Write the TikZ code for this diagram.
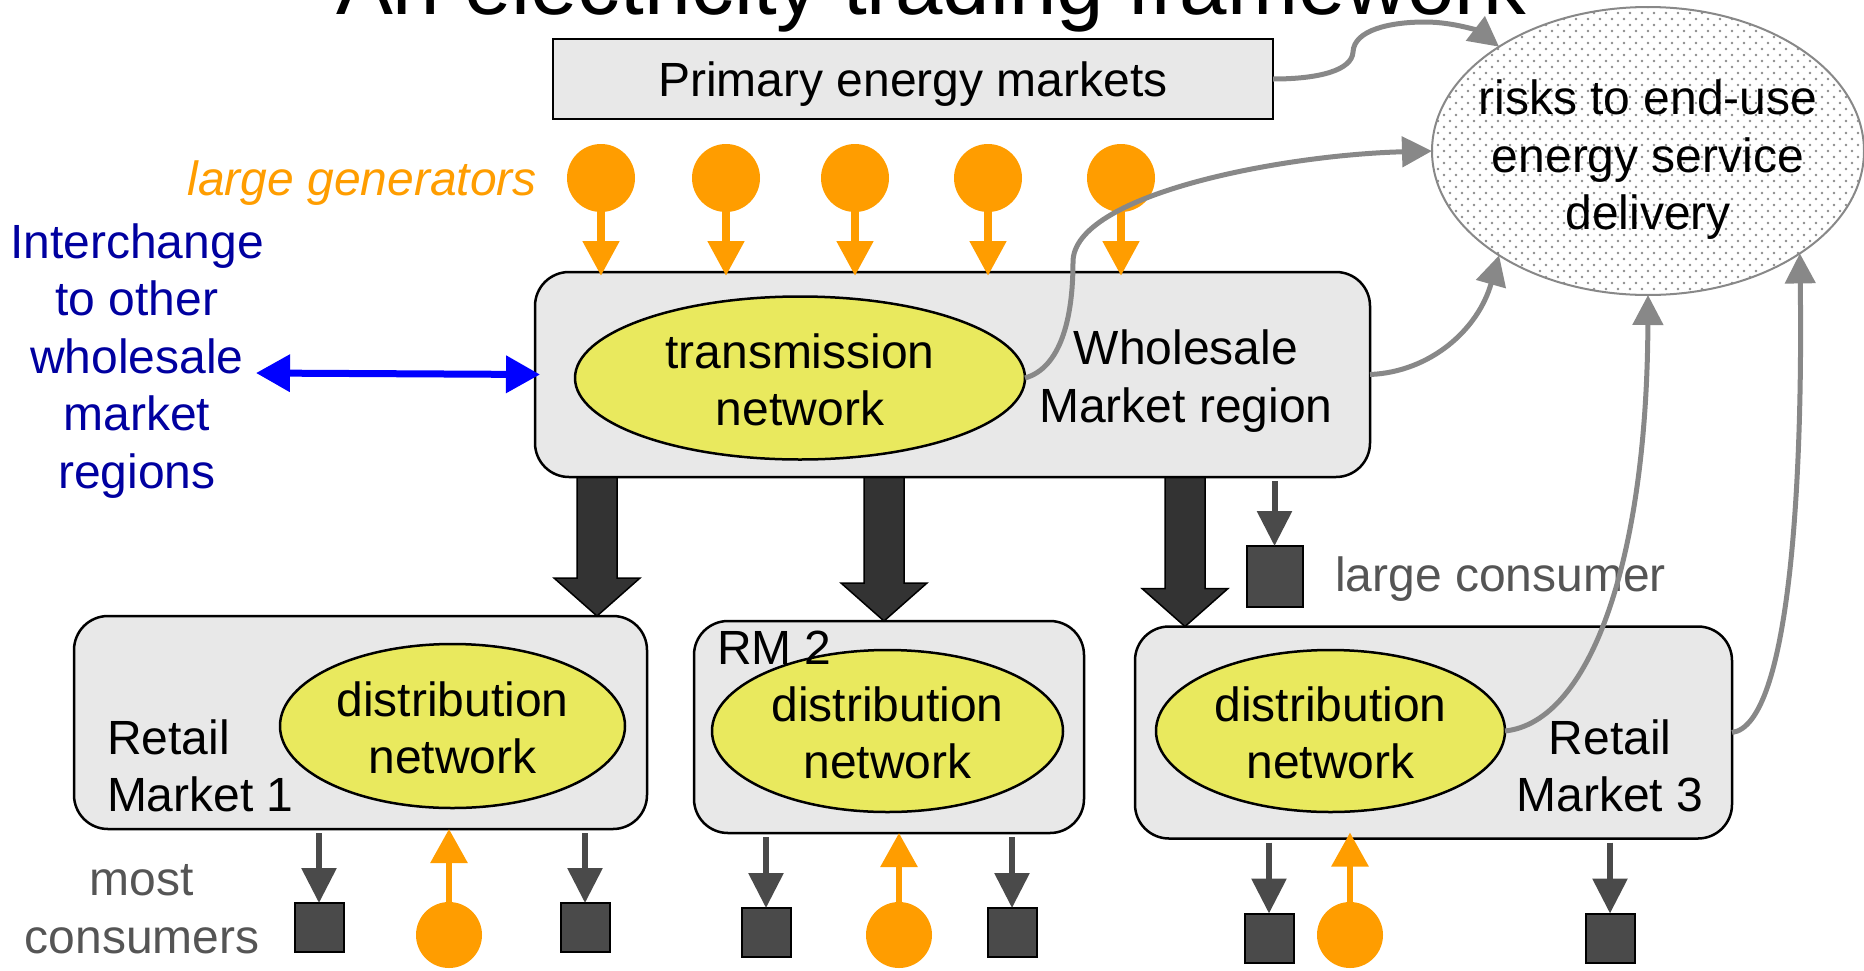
\documentclass[tikz,border=0pt]{standalone}
\usepackage{fontspec}
\setmainfont{Liberation Sans}
\usetikzlibrary{shapes.geometric,arrows.meta}

\definecolor{boxgray}{RGB}{232,232,232}
\definecolor{netyellow}{RGB}{233,233,94}
\definecolor{genorange}{RGB}{255,157,0}
\definecolor{linkgray}{RGB}{136,136,136}
\definecolor{dotgray}{RGB}{140,140,140}
\definecolor{loadgray}{RGB}{74,74,74}
\definecolor{labelgray}{RGB}{85,85,85}
\definecolor{navytext}{RGB}{0,0,160}
\definecolor{heavy}{RGB}{51,51,51}
\definecolor{tieblue}{RGB}{0,0,255}

\begin{document}
\begin{tikzpicture}[x=1pt,y=-1pt,
  fnt/.style={font=\fontsize{48}{57.5}\selectfont, inner sep=0pt, outer sep=0pt, align=center},
  txt/.style={fnt, yshift=-5pt},
  market/.style={rectangle, draw=black, line width=2.5pt, fill=boxgray, rounded corners=34pt, inner sep=0pt, outer sep=0pt},
  net/.style={ellipse, draw=black, line width=2.5pt, fill=netyellow, fnt},
  biggen/.style={circle, fill=genorange, minimum size=68pt, inner sep=0pt, outer sep=0pt},
  smallgen/.style={circle, fill=genorange, minimum size=66pt, inner sep=0pt, outer sep=0pt},
  load/.style={rectangle, draw=black, line width=2pt, fill=loadgray, minimum width=49pt, minimum height=49pt, inner sep=0pt, outer sep=0pt},
  genflow/.style={draw=genorange, line width=8pt, -{Triangle[length=35pt,width=35pt]}},
  upflow/.style={draw=genorange, line width=6pt, -{Triangle[length=34pt,width=36pt]}},
  loadflow/.style={draw=loadgray, line width=6pt, -{Triangle[length=35pt,width=34pt]}, shorten <=4pt},
  riskflow/.style={draw=linkgray, line width=5pt, -{Triangle[length=30pt,width=30pt]}},
  bulk/.style={draw=black, line width=1.5pt, fill=heavy, line join=miter},
]
\useasboundingbox (0,0) rectangle (1864,970);
\clip (0,0) rectangle (1864,970);

% heading, running off the top edge
\node[font=\fontsize{85.3}{100}\selectfont, anchor=base, inner sep=0pt] (title) at (931,14) {An electricity trading framework};

% primary energy markets
\node[rectangle, draw=black, line width=2.5pt, fill=boxgray, minimum width=720pt, minimum height=80pt, inner sep=0pt, outer sep=0pt] (prim) at (913,79) {};
\node[txt] (primtext) at (prim.center) {Primary energy markets};

% risk ellipse with dotted fill
\node[ellipse, fill=white, minimum width=432pt, minimum height=288pt, inner sep=0pt, outer sep=0pt] (riskbg) at (1648,151) {};
\begin{scope}
  \clip (1648,151) ellipse [x radius=216pt, y radius=144pt];
  \foreach \r in {0,...,48}{
    \foreach \c in {0,...,36}{
      \fill[dotgray] ({1432+12*\c+6*mod(\r,2)},{7+6*\r}) circle (1.3pt);
    }
  }
\end{scope}
\node[ellipse, draw=linkgray, line width=2pt, minimum width=432pt, minimum height=288pt, inner sep=0pt, outer sep=0pt] (risk) at (riskbg.center) {};
\node[txt] (risktext) at (1648,155) {risks to end-use\\energy service\\delivery};

% retail markets
\node[market, minimum width=573pt, minimum height=213pt] (rm1) at (360.5,722.5) {};
\node[market, minimum width=390pt, minimum height=212pt] (rm2) at (889,727) {};
\node[market, minimum width=597pt, minimum height=212pt] (rm3) at (1433.5,732.5) {};

% bulk flows from wholesale to retail
\foreach \fx/\dst in {597/rm1, 884/rm2, 1185/rm3}{
  \coordinate (ftop) at (\fx,470);
  \coordinate (ftip) at (ftop |- \dst.north);
  \draw[bulk] ([xshift=-20pt]ftop) -- ([xshift=20pt]ftop) -- ([shift={(20pt,38pt)}]ftip)
    -- ([shift={(43pt,38pt)}]ftip) -- (ftip) -- ([shift={(-43pt,38pt)}]ftip)
    -- ([shift={(-20pt,38pt)}]ftip) -- cycle;
}

% wholesale market region
\node[market, minimum width=835pt, minimum height=205pt] (whole) at (952.5,374.5) {};
\node[net, minimum width=450pt, minimum height=163pt] (tx) at (800,378) {};
\node[fnt, yshift=-2pt] (txtext) at (tx.center) {transmission\\network};
\node[txt] (wtext) at (1186,376) {Wholesale\\Market region};

% distribution networks
\node[net, minimum width=345pt, minimum height=164pt] (d1) at (452.5,726) {};
\node[net, minimum width=351pt, minimum height=162pt] (d2) at (887.5,731) {};
\node[net, minimum width=349pt, minimum height=162pt] (d3) at (1330.5,731) {};
\foreach \d in {d1,d2,d3}{
  \node[fnt, yshift=-2pt] at (\d.center) {distribution\\network};
}

\node[txt, align=left, anchor=west] (r1text) at (107,761) {Retail\\Market 1};
\node[txt, anchor=west] (r2text) at (717,643) {RM 2};
\node[txt] (r3text) at (1610,761) {Retail\\Market 3};

% large generators
\node[txt, font=\fontsize{48}{57.5}\selectfont\itshape, text=genorange, anchor=east] (lgtext) at (537,178) {large generators};
\foreach \gx [count=\i] in {601,726,855,988,1121}{
  \node[biggen] (g\i) at (\gx,178) {};
  \draw[genflow, shorten >=-4pt] (g\i.south) -- (g\i.south |- whole.north);
}

% interchange
\node[txt, text=navytext] (inter) at (137,356) {Interchange\\to other\\wholesale\\market\\regions};
\coordinate (interend) at (256,373);
\draw[draw=tieblue, line width=7pt, {Triangle[length=34pt,width=36pt]}-{Triangle[length=34pt,width=36pt]}] (interend) -- ([xshift=5pt]whole.west);

% large consumer
\node[load, minimum width=56pt, minimum height=61pt] (lc) at (1274.5,576.5) {};
\draw[loadflow] (whole.south -| lc) -- (lc.north);
\node[txt, text=labelgray, anchor=west] (lctext) at (1335,574) {large consumer};

% small consumers and embedded generation
\node[txt, text=labelgray] (mctext) at (142,904) {most\\consumers};

\node[load] (c11) at (319,927.5) {};
\node[load] (c12) at (585,927.5) {};
\node[smallgen] (e1) at (449,935) {};
\node[load] (c21) at (766,932.5) {};
\node[load] (c22) at (1012,932.5) {};
\node[smallgen] (e2) at (899,935) {};
\node[load] (c31) at (1269,938) {};
\node[load] (c32) at (1610,938) {};
\node[smallgen] (e3) at (1350,935) {};

\draw[loadflow] (rm1.south -| c11) -- (c11.north);
\draw[loadflow] (rm1.south -| c12) -- (c12.north);
\draw[loadflow] (rm2.south -| c21) -- (c21.north);
\draw[loadflow] (rm2.south -| c22) -- (c22.north);
\draw[loadflow] (rm3.south -| c31) -- (c31.north);
\draw[loadflow] (rm3.south -| c32) -- (c32.north);
\draw[upflow] (e1.north) -- (rm1.south -| e1);
\draw[upflow] (e2.north) -- (rm2.south -| e2);
\draw[upflow] (e3.north) -- ([yshift=6pt]rm3.south -| e3);

% links to the risk ellipse
\draw[riskflow] (prim.east) .. controls (1320,79) and (1352,70) .. (1353,52)
  .. controls (1354,30) and (1390,22) .. (1425,22)
  .. controls (1455,22) and (1480,32) .. (risk.145.7);
\draw[riskflow] (tx.east) .. controls (1060,368) and (1073,320) .. (1073,262)
  .. controls (1073,195) and (1280,155) .. (risk.west);
\draw[riskflow] (whole.east) .. controls (1430,372) and (1478,330) .. (risk.215.4);
\draw[riskflow] (d3.east) .. controls (1590,722) and (1647,560) .. (risk.south);
\draw[riskflow] (rm3.east) .. controls (1790,725) and (1803,480) .. (risk.326.7);
\end{tikzpicture}
\end{document}
